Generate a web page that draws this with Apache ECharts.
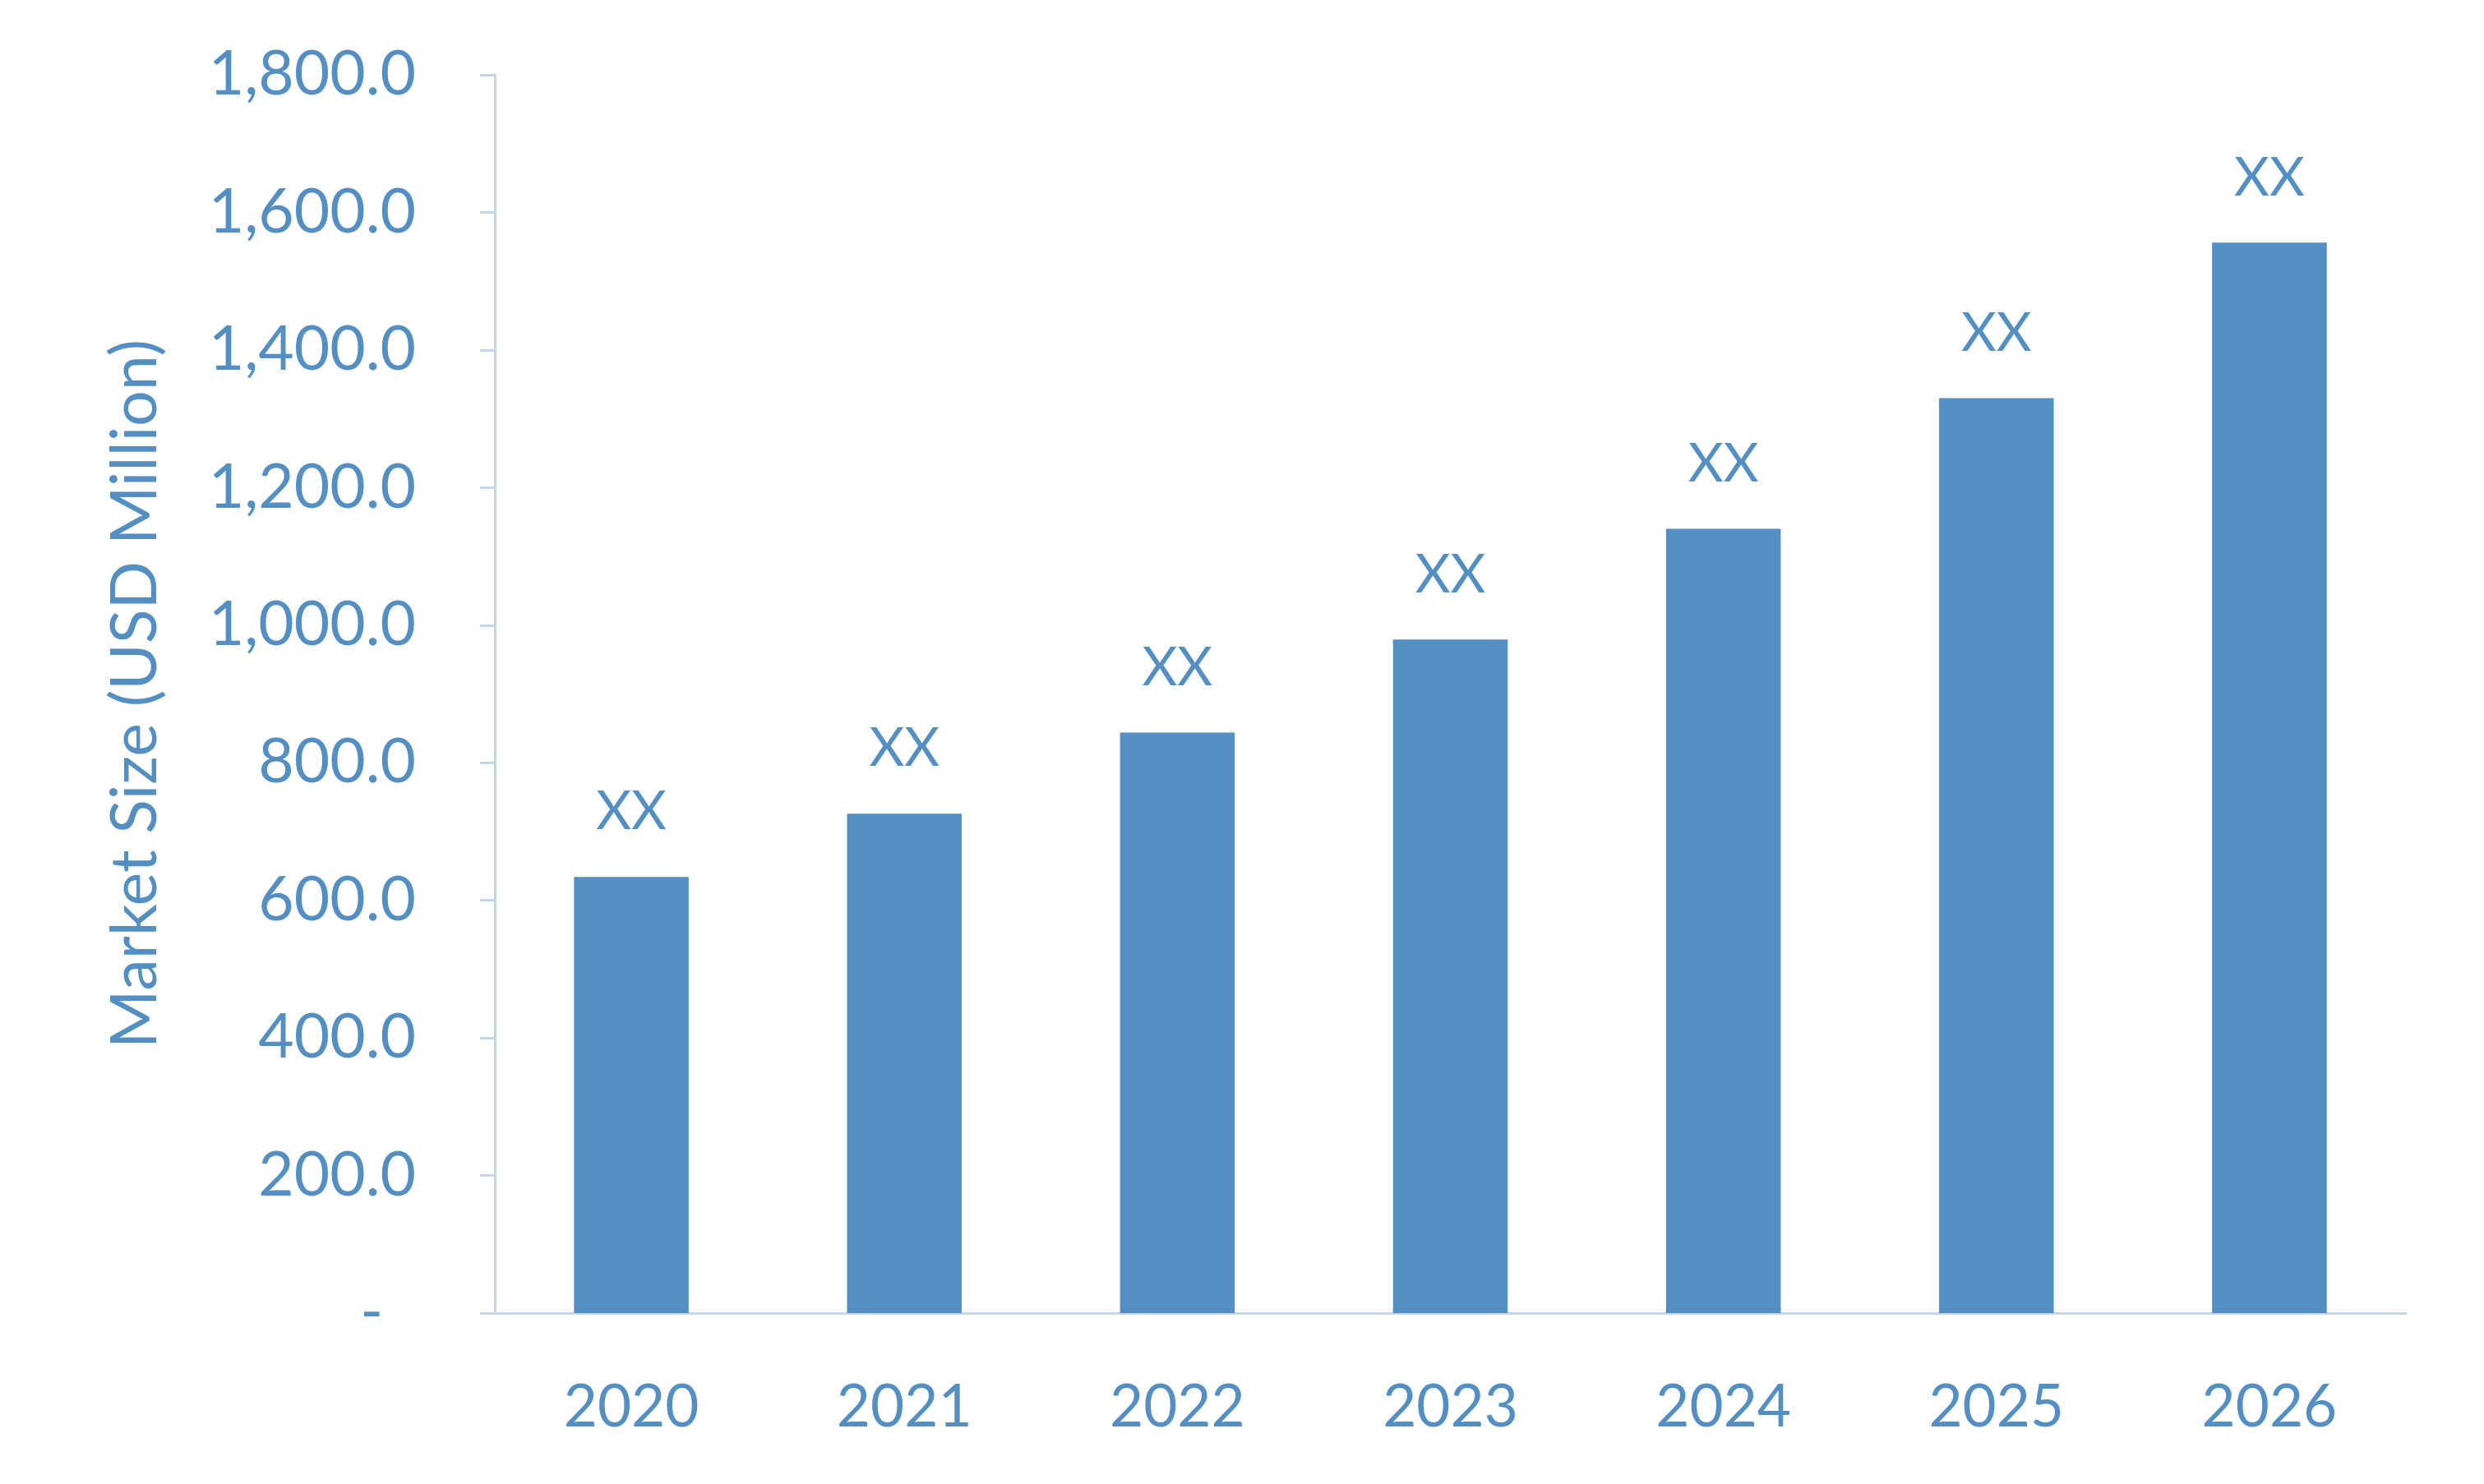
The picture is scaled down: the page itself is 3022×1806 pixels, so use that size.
<!DOCTYPE html>
<html>
<head>
<meta charset="utf-8">
<script src="https://cdn.jsdelivr.net/npm/echarts@6/dist/echarts.min.js"></script>
<style>
  html, body { margin: 0; padding: 0; background: #fff; }
  #chart { width: 3022px; height: 1806px; }
</style>
</head>
<body>
<div id="chart"></div>
<script>
// 数据
var years = ['2020', '2021', '2022', '2023', '2024', '2025', '2026'];
var marketSize = [634, 726, 844, 979, 1140, 1330, 1556];
var barLabels = ['XX', 'XX', 'XX', 'XX', 'XX', 'XX', 'XX'];

var blue = '#548FC4';
var axisBlue = '#C3D7EC';
var font = 'Lato';

var chart = echarts.init(document.getElementById('chart'));

var option = {
  animation: false,
  grid: {
    left: 602,
    right: 95,
    top: 91,
    bottom: 208
  },
  xAxis: {
    type: 'category',
    data: years,
    axisLine: { lineStyle: { color: axisBlue, width: 3 } },
    axisTick: { show: false },
    axisLabel: {
      color: blue,
      fontFamily: font,
      fontSize: 71,
      margin: 80
    }
  },
  yAxis: {
    type: 'value',
    min: 0,
    max: 1800,
    interval: 200,
    name: 'Market Size (USD Million)',
    nameLocation: 'middle',
    nameGap: 398,
    nameTextStyle: {
      color: blue,
      fontFamily: font,
      fontSize: 77
    },
    axisLine: { show: true, lineStyle: { color: axisBlue, width: 3 } },
    axisTick: { show: true, inside: false, length: 18, lineStyle: { color: axisBlue, width: 3 } },
    splitLine: { show: false },
    axisLabel: {
      color: blue,
      fontFamily: font,
      fontSize: 75,
      margin: 96,
      formatter: function (v) {
        if (v === 0) return '{d|-}';
        return v.toLocaleString('en-US', { minimumFractionDigits: 1, maximumFractionDigits: 1 });
      },
      rich: {
        d: { color: blue, fontFamily: font, fontSize: 75, padding: [0, 40, 0, 0] }
      }
    }
  },
  series: [{
    type: 'bar',
    data: marketSize,
    barCategoryGap: '58%',
    itemStyle: { color: blue },
    label: {
      show: true,
      position: 'top',
      distance: 46,
      color: blue,
      fontFamily: font,
      fontSize: 66,
      formatter: function (p) { return barLabels[p.dataIndex]; }
    }
  }]
};

chart.setOption(option);
</script>
</body>
</html>
